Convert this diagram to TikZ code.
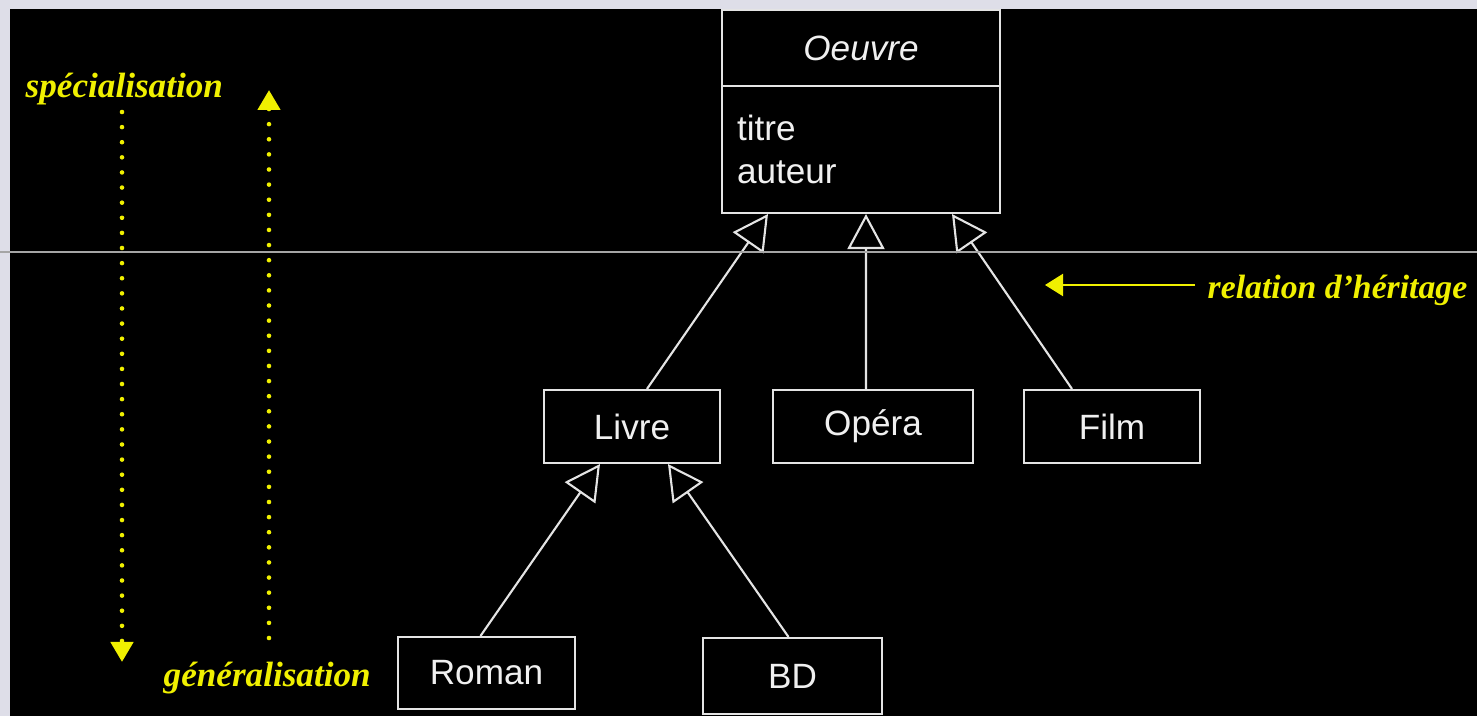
\documentclass[tikz,border=0pt]{standalone}
\usepackage{fontspec}
\setmainfont{Liberation Serif}
\setsansfont{Liberation Sans}
\usetikzlibrary{arrows.meta,calc}

\definecolor{umlline}{RGB}{228,228,228}
\definecolor{umltext}{RGB}{240,240,240}
\definecolor{noteyellow}{RGB}{240,240,0}
\definecolor{framegrey}{RGB}{222,222,232}
\definecolor{rulegrey}{RGB}{165,165,165}

\begin{document}
\begin{tikzpicture}[
		classbox/.style={draw=umlline, line width=0.6pt, fill=black, text=umltext, inner sep=0pt,
			font=\sffamily\fontsize{10}{12}\selectfont},
		inherit/.style={draw=umlline, line width=0.6pt, -{Triangle[open,length=0.35cm,width=0.37cm]}},
		note/.style={text=noteyellow, inner sep=0pt, font=\rmfamily\bfseries\itshape\fontsize{10}{12}\selectfont},
		notedots/.style={draw=noteyellow, line width=1.3pt, line cap=round, dash pattern=on 0pt off 4.3pt,
			-{Triangle[length=0.2cm,width=0.22cm]}}]
	\useasboundingbox (0,0) rectangle (14.77,-7.16);
	\fill[framegrey] (0,0) rectangle (14.77,-7.16);
	\fill[black] (0.10,-0.09) rectangle (14.77,-7.16);

	% classes
	\node[classbox, minimum width=2.78cm, minimum height=0.76cm] (oeuvre) at (8.61,-0.48) {\textit{Oeuvre}};
	\node[classbox, minimum height=1.27cm, inner xsep=0.15cm, text width=2.48cm, align=left] (attrs) at (8.61,-1.495) {titre\\auteur};
	\node[classbox, minimum width=1.76cm, minimum height=0.73cm] (livre) at (6.32,-4.265) {Livre};
	\node[classbox, minimum width=2.00cm, minimum height=0.73cm] (opera) at (8.73,-4.265) {Opéra};
	\node[classbox, minimum width=1.76cm, minimum height=0.73cm] (film) at (11.12,-4.265) {Film};
	\node[classbox, minimum width=1.77cm, minimum height=0.72cm] (roman) at (4.865,-6.73) {Roman};
	\node[classbox, minimum width=1.79cm, minimum height=0.76cm] (bd) at (7.925,-6.76) {BD};

	% heritage
	\draw[inherit] ($(livre.north)+(0.15,0)$) -- ($(attrs.south)+(-0.93,0)$);
	\draw[inherit] ($(opera.north)+(-0.07,0)$) -- ($(attrs.south)+(0.05,0)$);
	\draw[inherit] ($(film.north)+(-0.40,0)$) -- ($(attrs.south)+(0.91,0)$);
	\draw[inherit] ($(roman.north)+(-0.06,0)$) -- ($(livre.south)+(-0.32,0)$);
	\draw[inherit] ($(bd.north)+(-0.04,0)$) -- ($(livre.south)+(0.36,0)$);

	% notes
	\node[note, anchor=base west] (spec) at (0.25,-0.98) {spécialisation};
	\node[note, anchor=base west] (gen) at (1.63,-6.87) {généralisation};
	\node[note, anchor=base west, font=\rmfamily\bfseries\itshape\fontsize{9.6}{12}\selectfont] (rel) at (12.07,-2.99) {relation d’héritage};
	\coordinate (spec-top) at (1.22,-1.12);
	\coordinate (spec-end) at (1.22,-6.62);
	\coordinate (gen-low) at (2.69,-6.38);
	\coordinate (gen-end) at (2.69,-0.90);
	\coordinate (rel-start) at (11.95,-2.85);
	\coordinate (rel-end) at (10.45,-2.85);
	\draw[notedots] (spec-top) -- (spec-end);
	\draw[notedots] (gen-low) -- (gen-end);
	\draw[draw=noteyellow, line width=0.6pt, -{Triangle[length=0.18cm,width=0.22cm]}] (rel-start) -- (rel-end);

	\draw[rulegrey, line width=0.3pt] (0,-2.52) -- (14.77,-2.52);
\end{tikzpicture}
\end{document}
